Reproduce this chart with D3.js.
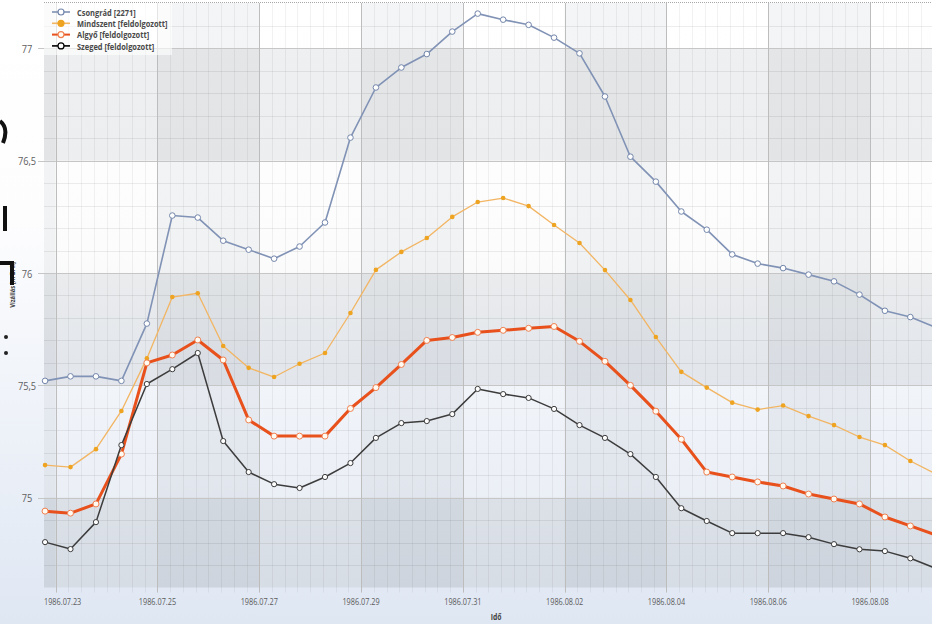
<!DOCTYPE html>
<html>
<head>
<meta charset="utf-8">
<script src="https://cdn.jsdelivr.net/npm/d3@7"></script>
<style>
  html, body { margin: 0; padding: 0; overflow: hidden; background: #fff; }
  svg { display: block; }
  text { font-family: "Open Sans", "Noto Sans", sans-serif; }
</style>
</head>
<body>
<svg id="chart" width="932" height="624"></svg>
<script>
// Water level readings (Vízállás, m B.f.), one reading every 12 hours
const seriesNames = ["Csongrád [2271]", "Mindszent [feldolgozott]", "Algyő [feldolgozott]", "Szeged [feldolgozott]"];
const startTime = new Date(1986, 6, 22, 19, 0);
const stepHours = 12;

const csongrad = [75.52, 75.54, 75.54, 75.52, 75.775, 76.256, 76.247, 76.144, 76.104, 76.064, 76.118, 76.225,
  76.603, 76.826, 76.915, 76.975, 77.075, 77.155, 77.128, 77.105, 77.048, 76.978, 76.786, 76.518,
  76.407, 76.274, 76.193, 76.083, 76.042, 76.022, 75.993, 75.963, 75.904, 75.832, 75.804, 75.758];
const mindszent = [75.145, 75.136, 75.216, 75.386, 75.62, 75.893, 75.91, 75.675, 75.578, 75.537, 75.596, 75.644,
  75.822, 76.014, 76.094, 76.156, 76.25, 76.316, 76.334, 76.298, 76.214, 76.134, 76.013, 75.88,
  75.715, 75.56, 75.49, 75.423, 75.392, 75.41, 75.363, 75.323, 75.27, 75.234, 75.163, 75.106];
const algyo = [74.94, 74.931, 74.972, 75.194, 75.6, 75.635, 75.702, 75.613, 75.346, 75.274, 75.274, 75.274,
  75.397, 75.49, 75.593, 75.7, 75.713, 75.736, 75.745, 75.754, 75.762, 75.696, 75.607, 75.5,
  75.385, 75.26, 75.114, 75.092, 75.07, 75.052, 75.016, 74.994, 74.972, 74.914, 74.874, 74.834];
const szeged = [74.802, 74.771, 74.891, 75.234, 75.506, 75.572, 75.644, 75.252, 75.114, 75.06, 75.043, 75.092,
  75.154, 75.266, 75.332, 75.341, 75.372, 75.484, 75.461, 75.444, 75.395, 75.323, 75.266, 75.194,
  75.092, 74.953, 74.896, 74.842, 74.842, 74.842, 74.824, 74.793, 74.77, 74.762, 74.73, 74.685];

const yTicks = [75, 75.5, 76, 76.5, 77];
const xTickLabels = ["1986.07.23", "1986.07.25", "1986.07.27", "1986.07.29", "1986.07.31",
  "1986.08.02", "1986.08.04", "1986.08.06", "1986.08.08"];
const yTitle = "Vízállás [m B. f.]";
const xTitle = "Idő";

// ---------------------------------------------------------------------------
const svg = d3.select("#chart");
const W = 932, H = 624;
const plotLeft = 44, plotTop = 3, plotBottom = 587.5, pxPerDay = 50.9;
const days = 18;

const parseTick = d3.timeParse("%Y.%m.%d");
const tickDates = xTickLabels.map(parseTick);
const times = d3.range(csongrad.length).map(i => d3.timeHour.offset(startTime, stepHours * i));

const x0 = d3.timeMinute.offset(startTime, -30);
const x = d3.scaleTime()
  .domain([x0, d3.timeDay.offset(x0, days)])
  .range([plotLeft, plotLeft + days * pxPerDay]);
const plotRight = x.range()[1];
const y = d3.scaleLinear().domain([74.6, 77.2]).range([plotBottom, plotTop + 0.5]);

const defs = svg.append("defs");
const pageGrad = defs.append("linearGradient").attr("id", "pageBg")
  .attr("x1", 0).attr("y1", 0).attr("x2", 0).attr("y2", 1);
pageGrad.append("stop").attr("offset", 0).attr("stop-color", "#ffffff");
pageGrad.append("stop").attr("offset", 0.35).attr("stop-color", "#fdfdfe");
pageGrad.append("stop").attr("offset", 1).attr("stop-color", "#dfe7f3");

const plotGrad = defs.append("linearGradient").attr("id", "plotBg")
  .attr("gradientUnits", "userSpaceOnUse")
  .attr("x1", 0).attr("y1", plotTop).attr("x2", 0).attr("y2", plotBottom);
plotGrad.append("stop").attr("offset", 0).attr("stop-color", "#ffffff");
plotGrad.append("stop").attr("offset", 0.42).attr("stop-color", "#fcfcfc");
plotGrad.append("stop").attr("offset", 0.66).attr("stop-color", "#f1f4f9");
plotGrad.append("stop").attr("offset", 1).attr("stop-color", "#e6ebf3");

svg.append("rect").attr("width", W).attr("height", H).attr("fill", "url(#pageBg)");

// plot background
const bg = svg.append("g");
bg.append("rect")
  .attr("x", plotLeft).attr("y", plotTop)
  .attr("width", plotRight - plotLeft).attr("height", plotBottom - plotTop)
  .attr("fill", "url(#plotBg)");

// alternating horizontal bands between major y ticks
const yBandEdges = [74.6, 75, 75.5, 76, 76.5, 77, 77.2];
for (let i = 0; i < yBandEdges.length - 1; i++) {
  if (i % 2 !== 0) continue;
  bg.append("rect")
    .attr("x", plotLeft).attr("y", y(yBandEdges[i + 1]))
    .attr("width", plotRight - plotLeft)
    .attr("height", y(yBandEdges[i]) - y(yBandEdges[i + 1]))
    .attr("fill", "rgb(40,50,70)").attr("fill-opacity", 0.075);
}
// alternating vertical bands between date ticks
const colEdges = [x0, ...tickDates, x.domain()[1]];
for (let i = 0; i < colEdges.length - 1; i++) {
  if (i % 2 !== 0) continue;
  bg.append("rect")
    .attr("x", x(colEdges[i])).attr("y", plotTop)
    .attr("width", x(colEdges[i + 1]) - x(colEdges[i]))
    .attr("height", plotBottom - plotTop)
    .attr("fill", "rgb(40,50,70)").attr("fill-opacity", 0.05);
}

// grid lines
const grid = svg.append("g");
const minorY = d3.range(74.7, 77.2, 0.1).map(v => +v.toFixed(1)).filter(v => !yTicks.includes(v));
grid.selectAll(".minor-y").data(minorY).join("line")
  .attr("x1", plotLeft).attr("x2", plotRight)
  .attr("y1", d => Math.round(y(d)) + 0.5).attr("y2", d => Math.round(y(d)) + 0.5)
  .attr("stroke", "#000").attr("stroke-opacity", 0.07);
const minorX = d3.timeHour.every(6).range(x0, x.domain()[1]);
grid.selectAll(".minor-x").data(minorX).join("line")
  .attr("x1", d => Math.round(x(d)) + 0.5).attr("x2", d => Math.round(x(d)) + 0.5)
  .attr("y1", plotTop).attr("y2", plotBottom + 5)
  .attr("stroke", "#000").attr("stroke-opacity", 0.05);
grid.selectAll(".major-y").data(yTicks).join("line")
  .attr("x1", 38).attr("x2", plotRight)
  .attr("y1", d => Math.round(y(d)) + 0.5).attr("y2", d => Math.round(y(d)) + 0.5)
  .attr("stroke", "#c6c6c6");
grid.selectAll(".major-x").data(tickDates).join("line")
  .attr("x1", d => Math.round(x(d)) + 0.5).attr("x2", d => Math.round(x(d)) + 0.5)
  .attr("y1", plotTop).attr("y2", plotBottom + 5)
  .attr("stroke", "#bdbdbd");
svg.append("line")
  .attr("x1", plotLeft).attr("x2", W).attr("y1", 2.5).attr("y2", 2.5)
  .attr("stroke", "#a8a8a8").attr("stroke-dasharray", "1,1");

// axis labels
const fmtY = v => d3.format(".1~f")(v).replace(".", ",");
svg.append("g").selectAll("text").data(yTicks).join("text")
  .attr("transform", d => `translate(27,${y(d) + 0.5}) scale(0.88,1)`)
  .attr("text-anchor", "middle").attr("dominant-baseline", "central")
  .attr("font-size", 10.5).attr("fill", "#606060")
  .text(fmtY);

svg.append("g").selectAll("text").data(tickDates).join("text")
  .attr("transform", (d, i) => {
    const cx = x(d);
    const left = cx - 18.5 < plotLeft;
    return `translate(${left ? plotLeft : cx},605) scale(0.77,1)`;
  })
  .attr("text-anchor", d => (x(d) - 18.5 < plotLeft ? "start" : "middle"))
  .attr("font-size", 9.5).attr("fill", "#5c5c5c")
  .text((d, i) => xTickLabels[i]);

svg.append("text")
  .attr("transform", "translate(12,285) rotate(-90) scale(0.78,1)")
  .attr("text-anchor", "middle").attr("dominant-baseline", "central")
  .attr("font-size", 7.5).attr("font-weight", "bold").attr("fill", "#3a3a3a")
  .text(yTitle);
svg.append("text")
  .attr("transform", "translate(496,620) scale(0.85,1)")
  .attr("text-anchor", "middle")
  .attr("font-size", 8).attr("font-weight", "bold").attr("fill", "#444")
  .text(xTitle);

// series
const styles = [
  { values: csongrad, line: "#8092b5", width: 1.6, r: 2.8, fill: "#ffffff", stroke: "#7386ab" },
  { values: mindszent, line: "#f2b563", width: 1.3, r: 2.3, fill: "#eea321", stroke: "none" },
  { values: algyo, line: "#e8501c", width: 3, r: 3, fill: "#fffaf2", stroke: "#f08050" },
  { values: szeged, line: "#3c3c3c", width: 1.5, r: 2.6, fill: "#ffffff", stroke: "#3c3c3c" }
];
const lineGen = d3.line().x(d => x(d.t)).y(d => y(d.v));
const seriesG = svg.append("g");
styles.forEach(s => {
  const pts = s.values.map((v, i) => ({ t: times[i], v }));
  seriesG.append("path").datum(pts)
    .attr("d", lineGen).attr("fill", "none")
    .attr("stroke", s.line).attr("stroke-width", s.width)
    .attr("stroke-linejoin", "round");
  seriesG.append("g").selectAll("circle").data(pts).join("circle")
    .attr("cx", d => x(d.t)).attr("cy", d => y(d.v)).attr("r", s.r)
    .attr("fill", s.fill).attr("stroke", s.stroke).attr("stroke-width", 1);
});

// legend
const legend = svg.append("g");
legend.append("rect").attr("x", plotLeft).attr("y", 3).attr("width", 128).attr("height", 52)
  .attr("fill", "#ffffff").attr("fill-opacity", 0.6);
seriesNames.forEach((name, i) => {
  const s = styles[i];
  const ly = 12 + i * 11.3;
  legend.append("line").attr("x1", 52).attr("x2", 70).attr("y1", ly).attr("y2", ly)
    .attr("stroke", i === 3 ? "#000" : s.line).attr("stroke-width", i === 2 ? 2 : 1.6);
  legend.append("circle").attr("cx", 61).attr("cy", ly).attr("r", 3)
    .attr("fill", s.fill).attr("stroke", i === 3 ? "#000" : (s.stroke === "none" ? s.fill : s.stroke))
    .attr("stroke-width", 1.2);
  legend.append("text")
    .attr("transform", `translate(77,${ly}) scale(0.83,1)`)
    .attr("dominant-baseline", "central")
    .attr("font-size", 9).attr("font-weight", "bold").attr("fill", "#4a4a4a")
    .text(name);
});

// stray dark strokes along the left margin
const marks = svg.append("g").attr("stroke", "#111").attr("fill", "none")
  .attr("stroke-width", 4).attr("stroke-linecap", "butt");
marks.append("path").attr("d", "M0,121 Q9,128 3,143");
marks.append("path").attr("d", "M5,206 V231");
marks.append("path").attr("d", "M0,263 H12 V285");
svg.append("circle").attr("cx", 6).attr("cy", 337).attr("r", 2).attr("fill", "#222");
svg.append("circle").attr("cx", 6).attr("cy", 353).attr("r", 2).attr("fill", "#222");
</script>
</body>
</html>
